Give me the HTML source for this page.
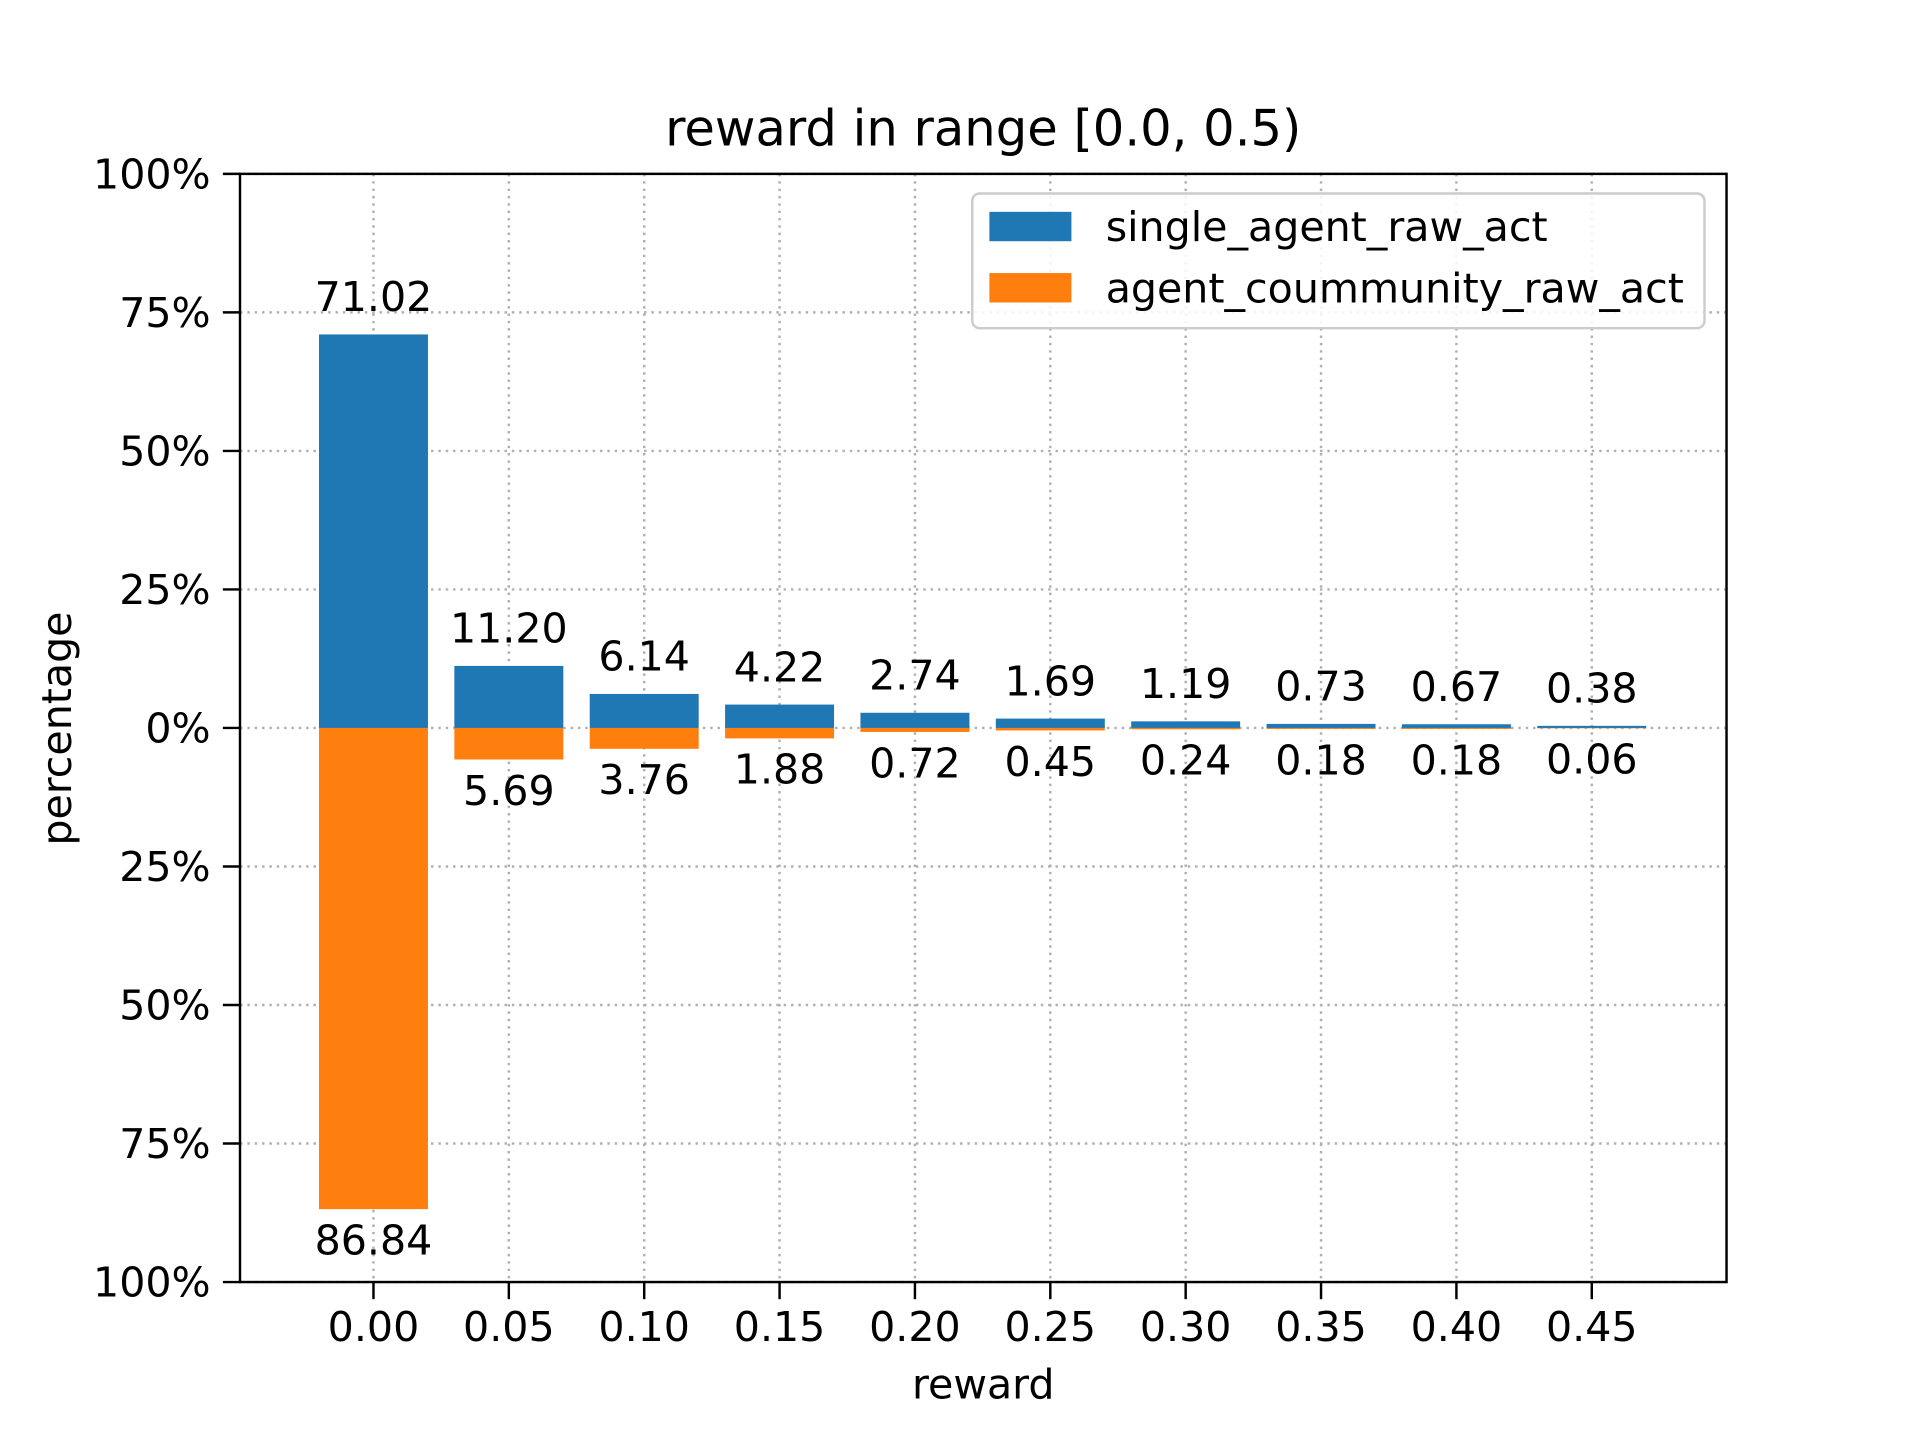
<!DOCTYPE html>
<html><head><meta charset="utf-8"><style>
html,body{margin:0;padding:0;background:#fff;width:1920px;height:1440px;overflow:hidden}
svg text{font-family:"DejaVu Sans","Liberation Sans",sans-serif;fill:#000}
</style></head><body>
<svg id="chart" width="1920" height="1440" viewBox="0 0 1568 1176" xmlns="http://www.w3.org/2000/svg">
<rect width="1568" height="1176" fill="#fff"/>
<text x="803" y="119" font-size="40.5" text-anchor="middle">reward in range [0.0, 0.5)</text>
<g id="grid"></g>
<g id="bars"></g>
<g id="labels"></g>
<rect x="196" y="142" width="1214" height="905" fill="none" stroke="#000" stroke-width="2"/>
<g id="axes"></g>
<text x="803" y="1142" font-size="33.6" text-anchor="middle">reward</text>
<text transform="translate(58,595) rotate(-90)" font-size="33.6" text-anchor="middle">percentage</text>
<g>
<rect x="794" y="158" width="598" height="110" rx="6" fill="#fff" fill-opacity="0.85" stroke="#ccc" stroke-width="2"/>
<rect x="808" y="173" width="67" height="24" fill="#1f77b4"/>
<text x="903" y="197" font-size="33.6">single_agent_raw_act</text>
<rect x="808" y="223" width="67" height="24" fill="#ff7f0e"/>
<text x="903" y="247" font-size="33.6">agent_coummunity_raw_act</text>
</g>
</svg>
<script>
const categories = ["0.00","0.05","0.10","0.15","0.20","0.25","0.30","0.35","0.40","0.45"];
const singleValues = [71.02,11.20,6.14,4.22,2.74,1.69,1.19,0.73,0.67,0.38];
const communityValues = [86.84,5.69,3.76,1.88,0.72,0.45,0.24,0.18,0.18,0.06];
const yTickValues = [100,75,50,25,0,-25,-50,-75,-100];

const NS="http://www.w3.org/2000/svg";
const L=196,R=1410,T=142,B=1047;
const x0=305, step=110.55, bw=89;
const FS=33.6;
function xPos(i){return x0+i*step;}
function yPos(v){return 594.5 - v*(B-T)/200;}
function mk(tag,attrs,parent,txt){const e=document.createElementNS(NS,tag);for(const k in attrs)e.setAttribute(k,attrs[k]);if(txt!==undefined)e.textContent=txt;document.getElementById(parent).appendChild(e);return e;}
categories.forEach((c,i)=>{
  const g=mk('line',{x1:xPos(i),x2:xPos(i),y1:T,y2:B,stroke:'#b0b0b0','stroke-width':2,'stroke-dasharray':'2,4'},'grid');
  
  
  const t=mk('line',{x1:xPos(i),x2:xPos(i),y1:B,y2:B+14,stroke:'#000','stroke-width':2},'axes');
  
  
  const l=mk('text',{x:xPos(i),y:B+48,'font-size':FS,'text-anchor':'middle'},'axes',c);
  
  
});
yTickValues.forEach(v=>{
  const g=mk('line',{x1:L,x2:R,y1:yPos(v),y2:yPos(v),stroke:'#b0b0b0','stroke-width':2,'stroke-dasharray':'2,4'},'grid');
  
  
  const t=mk('line',{x1:L-14,x2:L,y1:yPos(v),y2:yPos(v),stroke:'#000','stroke-width':2},'axes');
  
  
  const l=mk('text',{x:L-24,y:yPos(v)+12,'font-size':FS,'text-anchor':'end'},'axes',Math.abs(v)+'%');
  
  
});
categories.forEach((c,i)=>{
  const s=singleValues[i], m=communityValues[i];
  const b1=mk('rect',{x:xPos(i)-bw/2,y:yPos(s),width:bw,height:yPos(0)-yPos(s),fill:'#1f77b4'},'bars');
  
  
  const b2=mk('rect',{x:xPos(i)-bw/2,y:yPos(0),width:bw,height:yPos(-m)-yPos(0),fill:'#ff7f0e'},'bars');
  
  
  const t1=mk('text',{x:xPos(i),y:yPos(s)-19,'font-size':FS,'text-anchor':'middle'},'labels',s.toFixed(2));
  
  
  const t2=mk('text',{x:xPos(i),y:yPos(-m)+37,'font-size':FS,'text-anchor':'middle'},'labels',m.toFixed(2));
  
  
});
</script>
</body></html>
